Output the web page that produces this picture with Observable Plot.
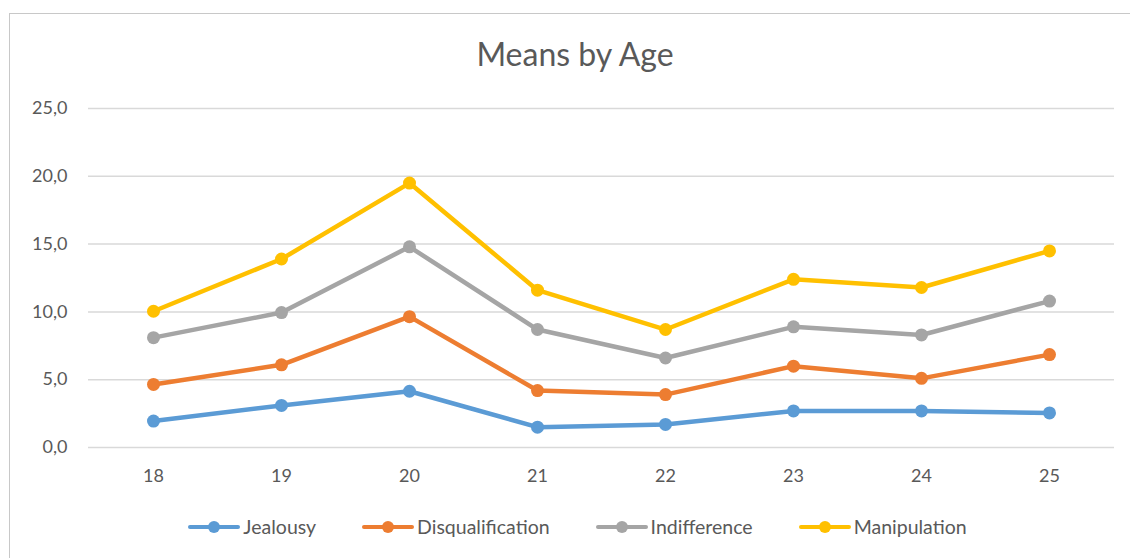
<!DOCTYPE html>
<html>
<head>
<meta charset="utf-8">
<script src="https://cdn.jsdelivr.net/npm/d3@7"></script>
<script src="https://cdn.jsdelivr.net/npm/@observablehq/plot@0.6"></script>
<style>
  html, body { margin: 0; padding: 0; background: #fff; width: 1130px; height: 558px; overflow: hidden; }
  body { font-family: Lato, "Open Sans", sans-serif; position: relative; }
  #frame { position: absolute; left: 9px; top: 13px; width: 1140px; height: 560px; border: 1.5px solid #c8c8c8; box-sizing: border-box; }
  #title { position: absolute; left: 0; width: 1150px; top: 34px; text-align: center; font-size: 32px; color: #595959; font-family: Lato, sans-serif; }
  #chart { position: absolute; left: 0; top: 88px; }
  #legend { position: absolute; top: 515px; left: 0; width: 1155px; display: flex; justify-content: center; gap: 46px; font-size: 19.5px; color: #595959; }
  .item { display: flex; align-items: center; }
  .sw { position: relative; width: 52px; height: 4px; margin-right: 3px; }
  .sw .ln { position: absolute; left: 0; top: 0; width: 52px; height: 4px; border-radius: 2px; }
  .sw .dt { position: absolute; left: 20px; top: -4px; width: 12px; height: 12px; border-radius: 6px; }
</style>
</head>
<body>
<div id="frame"></div>
<div id="title">Means by Age</div>
<div id="chart"></div>
<div id="legend"></div>
<script>
const ages = ["18", "19", "20", "21", "22", "23", "24", "25"];
const seriesNames = ["Jealousy", "Disqualification", "Indifference", "Manipulation"];
const colors = ["#5B9BD5", "#ED7D31", "#A5A5A5", "#FFC000"];
const jealousy = [1.95, 3.1, 4.15, 1.5, 1.7, 2.7, 2.7, 2.55];
const disqualification = [4.65, 6.1, 9.65, 4.2, 3.9, 6.0, 5.1, 6.85];
const indifference = [8.1, 9.95, 14.8, 8.7, 6.6, 8.9, 8.3, 10.8];
const manipulation = [10.05, 13.9, 19.5, 11.6, 8.7, 12.4, 11.8, 14.5];
const yTicks = [0, 5, 10, 15, 20, 25];

const seriesValues = [jealousy, disqualification, indifference, manipulation];
const data = [];
seriesNames.forEach((s, i) => ages.forEach((a, j) => data.push({series: s, age: a, value: seriesValues[i][j]})));

const fmt = d => d3.format(".1f")(d).replace(".", ",");

const chart = Plot.plot({
  width: 1130,
  height: 399,
  marginLeft: 88,
  marginRight: 16,
  marginTop: 20,
  marginBottom: 40,
  style: { fontFamily: "Lato, 'Open Sans', sans-serif", fontSize: "18px", color: "#595959", background: "transparent" },
  x: { type: "point", domain: ages, padding: 0.5, label: null },
  y: { domain: [0, 25], label: null },
  color: { domain: seriesNames, range: colors },
  marks: [
    Plot.ruleY(yTicks, { stroke: "#d9d9d9", strokeWidth: 1.5 }),
    Plot.axisY(yTicks, { tickSize: 0, tickPadding: 21, tickFormat: fmt, fontSize: 18, fill: "#595959" }),
    Plot.axisX(ages, { tickSize: 0, tickPadding: 22, fontSize: 18, fill: "#595959" }),
    Plot.line(data, { x: "age", y: "value", z: "series", stroke: "series", strokeWidth: 4.5, strokeLinejoin: "round", strokeLinecap: "round" }),
    Plot.dot(data, { x: "age", y: "value", fill: "series", r: 6.5 })
  ]
});
document.getElementById("chart").appendChild(chart);

const legend = document.getElementById("legend");
seriesNames.forEach((s, i) => {
  const item = document.createElement("div");
  item.className = "item";
  item.innerHTML = `<div class="sw"><div class="ln" style="background:${colors[i]}"></div><div class="dt" style="background:${colors[i]}"></div></div><span>${s}</span>`;
  legend.appendChild(item);
});
</script>
</body>
</html>
